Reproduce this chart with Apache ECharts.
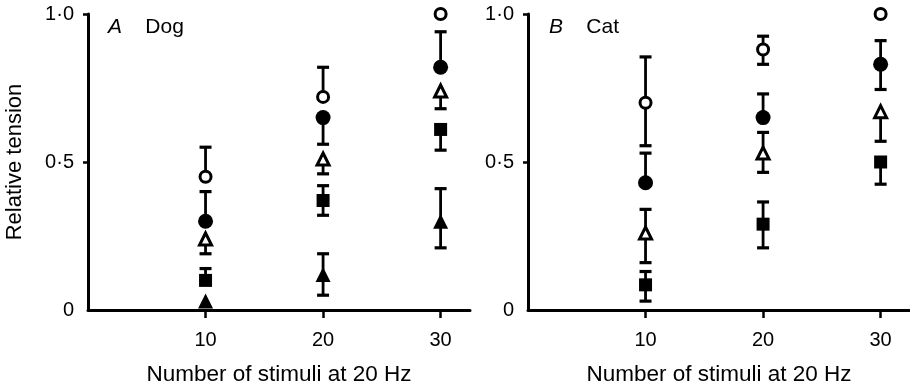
<!DOCTYPE html>
<html>
<head>
<meta charset="utf-8">
<script src="https://cdn.jsdelivr.net/npm/echarts@6/dist/echarts.min.js"></script>
<style>html,body{margin:0;padding:0;background:#fff}#c{width:910px;height:387px}</style>
</head>
<body>
<div id="c"></div>
<script>
// ---- data ----
var stimuli = [10, 20, 30];
var yTicks = [0, 0.5, 1.0];

// Panel A: Dog  (mean, lower error end, upper error end; null = no bar on that side)
var dogOpenCircle      = [0.45, 0.72, 1.00];
var dogOpenCircleLo    = [null, null, null];
var dogOpenCircleHi    = [0.55, 0.82, null];
var dogFilledCircle    = [0.30, 0.65, 0.82];
var dogFilledCircleLo  = [null, 0.56, null];
var dogFilledCircleHi  = [0.40, null, 0.94];
var dogOpenTriangle    = [0.24, 0.51, 0.74];
var dogOpenTriangleLo  = [0.19, 0.46, 0.68];
var dogOpenTriangleHi  = [null, null, null];
var dogFilledSquare    = [0.10, 0.37, 0.61];
var dogFilledSquareLo  = [null, 0.32, 0.54];
var dogFilledSquareHi  = [0.14, 0.42, null];
var dogFilledTriangle  = [0.03, 0.12, 0.30];
var dogFilledTriangleLo= [null, 0.05, 0.21];
var dogFilledTriangleHi= [null, 0.19, 0.41];

// Panel B: Cat
var catOpenCircle      = [0.70, 0.88, 1.00];
var catOpenCircleLo    = [0.555, 0.83, null];
var catOpenCircleHi    = [0.855, 0.925, null];
var catFilledCircle    = [0.43, 0.65, 0.83];
var catFilledCircleLo  = [null, null, 0.745];
var catFilledCircleHi  = [0.53, 0.73, 0.91];
var catOpenTriangle    = [0.26, 0.53, 0.67];
var catOpenTriangleLo  = [0.16, 0.465, 0.57];
var catOpenTriangleHi  = [0.34, 0.60, null];
var catFilledSquare    = [0.085, 0.29, 0.50];
var catFilledSquareLo  = [0.03, 0.21, 0.425];
var catFilledSquareHi  = [0.13, 0.365, null];

// ---- chart ----
var FONT = '"Liberation Sans", Arial, sans-serif';

function errData(mean, lo, hi) {
  return stimuli.map(function (x, i) {
    return [x, mean[i], lo[i] == null ? mean[i] : lo[i], hi[i] == null ? mean[i] : hi[i]];
  });
}
function pts(mean) { return stimuli.map(function (x, i) { return [x, mean[i]]; }); }

function renderErr(params, api) {
  var x = api.value(0), m = api.value(1), lo = api.value(2), hi = api.value(3);
  var pm = api.coord([x, m]), pl = api.coord([x, lo]), ph = api.coord([x, hi]);
  var st = { stroke: '#000', lineWidth: 2.8 };
  var cap = { stroke: '#000', lineWidth: 3.2 };
  var ch = [];
  if (lo < m) {
    ch.push({ type: 'line', shape: { x1: pm[0], y1: pm[1], x2: pl[0], y2: pl[1] }, style: st });
    ch.push({ type: 'line', shape: { x1: pl[0] - 6, y1: pl[1], x2: pl[0] + 6, y2: pl[1] }, style: cap });
  }
  if (hi > m) {
    ch.push({ type: 'line', shape: { x1: pm[0], y1: pm[1], x2: ph[0], y2: ph[1] }, style: st });
    ch.push({ type: 'line', shape: { x1: ph[0] - 6, y1: ph[1], x2: ph[0] + 6, y2: ph[1] }, style: cap });
  }
  return { type: 'group', children: ch };
}

function errSeries(idx, mean, lo, hi) {
  return {
    type: 'custom', xAxisIndex: idx, yAxisIndex: idx, z: 2, silent: true,
    renderItem: renderErr, data: errData(mean, lo, hi),
    encode: { x: 0, y: [1, 2, 3] }
  };
}
function markSeries(idx, mean, symbol, open, size) {
  return {
    type: 'scatter', xAxisIndex: idx, yAxisIndex: idx, z: 5, silent: true,
    symbol: symbol, symbolSize: size, data: pts(mean),
    itemStyle: open ? { color: '#fff', borderColor: '#000', borderWidth: 3, opacity: 1 }
                    : { color: '#000', borderWidth: 0, opacity: 1 }
  };
}

var series = [];
var dog = [
  [dogOpenCircle, dogOpenCircleLo, dogOpenCircleHi, 'circle', true, 11],
  [dogFilledCircle, dogFilledCircleLo, dogFilledCircleHi, 'circle', false, 15],
  [dogOpenTriangle, dogOpenTriangleLo, dogOpenTriangleHi, 'triangle', true, 12],
  [dogFilledSquare, dogFilledSquareLo, dogFilledSquareHi, 'rect', false, 13],
  [dogFilledTriangle, dogFilledTriangleLo, dogFilledTriangleHi, 'triangle', false, 15]
];
var cat = [
  [catOpenCircle, catOpenCircleLo, catOpenCircleHi, 'circle', true, 11],
  [catFilledCircle, catFilledCircleLo, catFilledCircleHi, 'circle', false, 15],
  [catOpenTriangle, catOpenTriangleLo, catOpenTriangleHi, 'triangle', true, 12],
  [catFilledSquare, catFilledSquareLo, catFilledSquareHi, 'rect', false, 13]
];
[dog, cat].forEach(function (panel, idx) {
  panel.forEach(function (s) {
    series.push(errSeries(idx, s[0], s[1], s[2]));
    series.push(markSeries(idx, s[0], s[3], s[4], s[5]));
  });
});

function yLab(v) { return v === 0 ? '0' : v.toFixed(1).replace('.', '\u00b7'); }

function xAxis(idx) {
  return {
    type: 'value', gridIndex: idx, min: 0, max: 32.5,
    axisLine: { show: true, onZero: false, lineStyle: { color: '#000', width: 3 } },
    axisTick: { show: true, customValues: stimuli, length: 8, lineStyle: { color: '#000', width: 2.5 } },
    axisLabel: { customValues: stimuli, color: '#000', fontSize: 20, fontFamily: FONT, margin: 20 },
    splitLine: { show: false },
    name: 'Number of stimuli at 20 Hz', nameLocation: 'middle', nameGap: 53,
    nameTextStyle: { color: '#000', fontSize: 22.5, fontFamily: FONT }
  };
}
function yAxis(idx) {
  var a = {
    type: 'value', gridIndex: idx, min: 0, max: 1, interval: 0.5,
    axisLine: { show: true, lineStyle: { color: '#000', width: 3 } },
    axisTick: { show: true, customValues: [0.5, 1.0], length: 5, lineStyle: { color: '#000', width: 2.5 } },
    axisLabel: { customValues: yTicks, formatter: yLab, color: '#000', fontSize: 20, fontFamily: FONT, margin: 14 },
    splitLine: { show: false }
  };
  if (idx === 0) {
    a.name = 'Relative tension';
    a.nameLocation = 'middle';
    a.nameGap = 62;
    a.nameRotate = 90;
    a.nameTextStyle = { color: '#000', fontSize: 22, fontFamily: FONT };
  }
  return a;
}

var titleStyle = {
  rich: { i: { fontStyle: 'italic', fontSize: 21, fontFamily: FONT, color: '#000' } },
  fontSize: 21, fontFamily: FONT, color: '#000', fontWeight: 'normal'
};

var chart = echarts.init(document.getElementById('c'), null, { renderer: 'canvas' });
chart.setOption({
  animation: false,
  backgroundColor: '#fff',
  title: [
    { text: '{i|A}    Dog', left: 103, top: 12, textStyle: titleStyle },
    { text: '{i|B}    Cat', left: 544, top: 12, textStyle: titleStyle }
  ],
  grid: [
    { left: 88, top: 14, width: 382, height: 296, outerBoundsMode: 'none', containLabel: false },
    { left: 528, top: 14, width: 382, height: 296, outerBoundsMode: 'none', containLabel: false }
  ],
  xAxis: [xAxis(0), xAxis(1)],
  yAxis: [yAxis(0), yAxis(1)],
  series: series
});
</script>
</body>
</html>
